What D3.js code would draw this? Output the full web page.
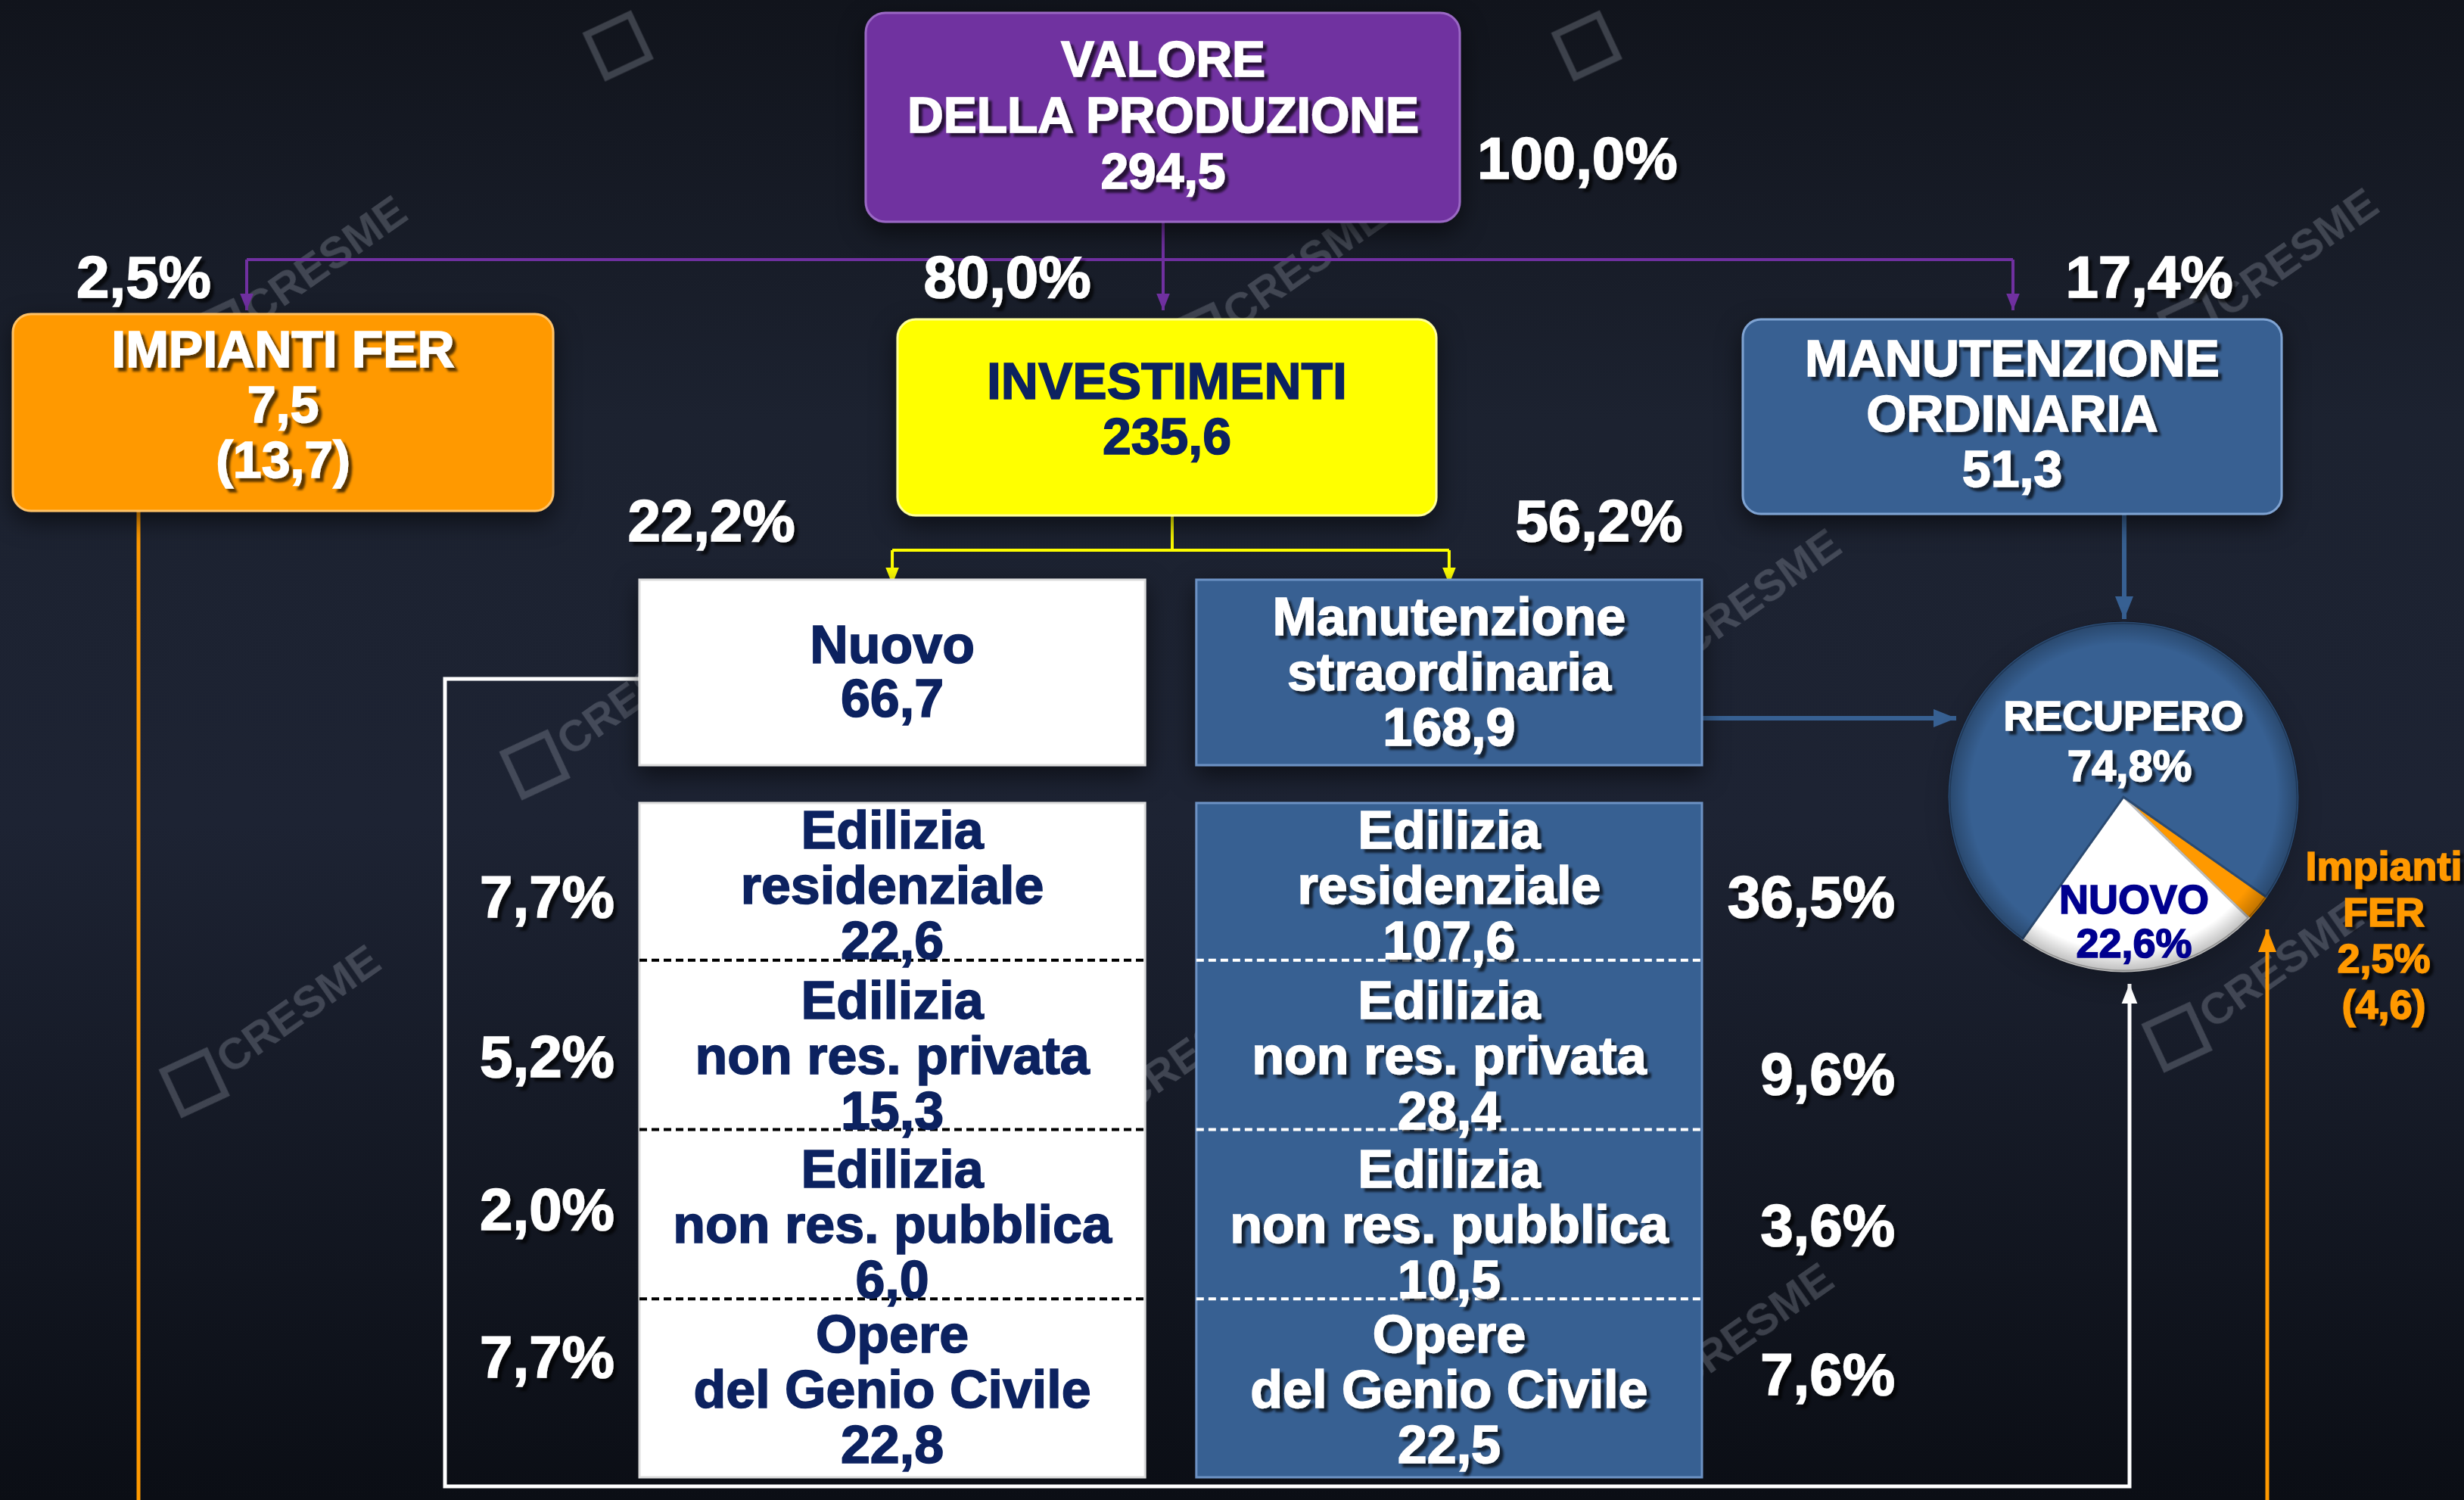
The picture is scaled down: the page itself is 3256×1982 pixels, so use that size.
<!DOCTYPE html>
<html>
<head>
<meta charset="utf-8">
<script src="https://cdn.jsdelivr.net/npm/d3@7"></script>
<style>
html, body { margin: 0; padding: 0; background: #151a25; }
svg { display: block; }
</style>
</head>
<body>
<div id="chart"></div>
<script>
// valori in miliardi di euro
const topLabel = ["VALORE", "DELLA PRODUZIONE"];
const topValue = 294.5;
const topShare = 100.0;

const branchNames = [["IMPIANTI FER"], ["INVESTIMENTI"], ["MANUTENZIONE", "ORDINARIA"]];
const branchValues = [7.5, 235.6, 51.3];
const branchShares = [2.5, 80.0, 17.4];
const ferTotal = 13.7;

const investNames = [["Nuovo"], ["Manutenzione", "straordinaria"]];
const investValues = [66.7, 168.9];
const investShares = [22.2, 56.2];

const categories = [["Edilizia", "residenziale"], ["Edilizia", "non res. privata"], ["Edilizia", "non res. pubblica"], ["Opere", "del Genio Civile"]];
const nuovoValues = [22.6, 15.3, 6.0, 22.8];
const nuovoShares = [7.7, 5.2, 2.0, 7.7];
const straordValues = [107.6, 28.4, 10.5, 22.5];
const straordShares = [36.5, 9.6, 3.6, 7.6];

const pieNames = ["RECUPERO", "NUOVO", "Impianti FER"];
const pieShares = [74.8, 22.6, 2.5];
const pieFerValue = 4.6;

const W = 3256, H = 1982;
const FONT = "'Liberation Sans', Arial, sans-serif";
const NAVY = "#0c2260", BLUE = "#376092", ORANGE = "#ff9900", PURPLE = "#7030a0", YELLOW = "#ffff00";

const it = d3.formatLocale({decimal: ",", thousands: ".", grouping: [3], currency: ["", " €"]});
const f1 = it.format(".1f");
const pct = v => f1(v) + "%";

const svg = d3.select("#chart").append("svg").attr("width", W).attr("height", H);
const defs = svg.append("defs");

// sfondo
const bg = defs.append("linearGradient").attr("id", "bg").attr("x1", 0).attr("y1", 0).attr("x2", 0).attr("y2", 1);
bg.append("stop").attr("offset", "0%").attr("stop-color", "#11141c");
bg.append("stop").attr("offset", "28%").attr("stop-color", "#1c2230");
bg.append("stop").attr("offset", "55%").attr("stop-color", "#1d2333");
bg.append("stop").attr("offset", "100%").attr("stop-color", "#0b0e15");
svg.append("rect").attr("width", W).attr("height", H).attr("fill", "url(#bg)");

const ts = defs.append("filter").attr("id", "ts").attr("x", "-10%").attr("y", "-30%").attr("width", "130%").attr("height", "160%");
ts.append("feDropShadow").attr("dx", 5).attr("dy", 5).attr("stdDeviation", 1.5).attr("flood-color", "#000").attr("flood-opacity", 0.65);
const bs = defs.append("filter").attr("id", "bs").attr("x", "-20%").attr("y", "-20%").attr("width", "140%").attr("height", "150%");
bs.append("feDropShadow").attr("dx", 0).attr("dy", 12).attr("stdDeviation", 16).attr("flood-color", "#000").attr("flood-opacity", 0.55);

function marker(id, color, size) {
  defs.append("marker").attr("id", id).attr("viewBox", "0 0 10 10")
    .attr("refX", 10).attr("refY", 5).attr("markerUnits", "userSpaceOnUse")
    .attr("markerWidth", size).attr("markerHeight", size).attr("orient", "auto")
    .append("path").attr("d", "M0,1 L10,5 L0,9 Z").attr("fill", color);
}
marker("aPurple", PURPLE, 22);
marker("aYellow", YELLOW, 22);
marker("aBlue", BLUE, 30);
marker("aWhite", "#ffffff", 26);
marker("aOrange", ORANGE, 30);

// filigrana CRESME
const wm = svg.append("g").attr("opacity", 0.32);
function logo(x, y, withText) {
  const g = wm.append("g").attr("transform", `translate(${x},${y}) rotate(-35)`);
  g.append("rect").attr("x", -170).attr("y", -30).attr("width", 62).attr("height", 62)
    .attr("fill", "none").attr("stroke", "#9aa0ac").attr("stroke-width", 9).attr("transform", "rotate(10,-139,1)");
  if (withText) g.append("text").attr("x", -95).attr("y", 0).attr("dy", "0.35em").attr("font-family", FONT)
    .attr("font-weight", "bold").attr("font-size", 58).attr("fill", "#9aa0ac").text("CRESME");
}
[[405, 360], [370, 1350], [1700, 365], [3010, 350], [2300, 800], [2990, 1290], [2290, 1770], [1560, 1400], [820, 930]]
  .forEach(p => logo(p[0], p[1], true));
logo(930, -20, false);
logo(2210, -20, false);

function lines(g, arr, x, y0, lh, size, fill, shadow, anchor) {
  arr.forEach((t, i) => {
    const el = g.append("text").attr("x", x).attr("y", y0 + i * lh).attr("dy", "0.36em")
      .attr("text-anchor", anchor || "middle").attr("font-family", FONT).attr("font-weight", "bold")
      .attr("font-size", size).attr("fill", fill).attr("stroke", fill).attr("stroke-width", 1.6).text(t);
    if (shadow) el.attr("filter", "url(#ts)");
  });
}

const conn = svg.append("g").attr("fill", "none");
// connettori dal valore della produzione
const branchX = [326, 1537, 2660];
conn.append("path").attr("d", `M1537,293 V343`).attr("stroke", PURPLE).attr("stroke-width", 4);
conn.append("path").attr("d", `M${branchX[0]},343 H${branchX[2]}`).attr("stroke", PURPLE).attr("stroke-width", 4);
branchX.forEach(x => conn.append("path").attr("d", `M${x},343 V410`).attr("stroke", PURPLE)
  .attr("stroke-width", 4).attr("marker-end", "url(#aPurple)"));

// colonne (nuovo / manutenzione straordinaria)
const cols = ["nuovo", "straord"];
const colX = d3.scaleBand().domain(cols).range([845, 2249]).paddingInner(0.092);
const rowY = d3.scaleBand().domain(d3.range(categories.length)).range([1045, 1940]);
const colTop = 1061, colBottom = 1952;

// connettori dagli investimenti
const invX = cols.map(c => colX(c) + colX.bandwidth() / 2);
conn.append("path").attr("d", `M1549,681 V727`).attr("stroke", YELLOW).attr("stroke-width", 4);
conn.append("path").attr("d", `M${invX[0]},727 H${invX[1]}`).attr("stroke", YELLOW).attr("stroke-width", 4);
invX.forEach(x => conn.append("path").attr("d", `M${x},727 V772`).attr("stroke", YELLOW)
  .attr("stroke-width", 4).attr("marker-end", "url(#aYellow)"));

// flussi verso la torta
conn.append("path").attr("d", "M907,897 H588 V1964 H2814 V1300").attr("stroke", "#ffffff")
  .attr("stroke-width", 5).attr("marker-end", "url(#aWhite)");
conn.append("path").attr("d", "M183,675 V1990").attr("stroke", ORANGE).attr("stroke-width", 5);
conn.append("path").attr("d", "M2996,1990 V1228").attr("stroke", ORANGE).attr("stroke-width", 5).attr("marker-end", "url(#aOrange)");
conn.append("path").attr("d", "M2249,949 H2585").attr("stroke", BLUE).attr("stroke-width", 6).attr("marker-end", "url(#aBlue)");
conn.append("path").attr("d", "M2807,679 V818").attr("stroke", BLUE).attr("stroke-width", 6).attr("marker-end", "url(#aBlue)");

// box principale
const main = svg.append("g");
main.append("rect").attr("x", 1144).attr("y", 17).attr("width", 785).attr("height", 276).attr("rx", 26)
  .attr("fill", PURPLE).attr("stroke", "#9a68c4").attr("stroke-width", 3).attr("filter", "url(#bs)");
lines(main, topLabel.concat([f1(topValue)]), 1537, 77, 74, 66, "#ffffff", true);
lines(main, [pct(topShare)], 1952, 208, 0, 78, "#ffffff", true, "start");

// box di primo livello
const branchBoxes = [
  {x: 17, y: 415, w: 714, h: 260, fill: ORANGE, stroke: "#ffc266", text: "#ffffff", y0: 461, sub: ["(" + f1(ferTotal) + ")"]},
  {x: 1186, y: 422, w: 712, h: 259, fill: YELLOW, stroke: "#ffff99", text: NAVY, y0: 503, sub: []},
  {x: 2303, y: 422, w: 712, h: 257, fill: BLUE, stroke: "#7fa3d2", text: "#ffffff", y0: 473, sub: []}
];
branchBoxes.forEach((b, i) => {
  main.append("rect").attr("x", b.x).attr("y", b.y).attr("width", b.w).attr("height", b.h).attr("rx", 24)
    .attr("fill", b.fill).attr("stroke", b.stroke).attr("stroke-width", 3).attr("filter", "url(#bs)");
  lines(main, branchNames[i].concat([f1(branchValues[i])], b.sub), b.x + b.w / 2, b.y0, 73, 68, b.text, b.text === "#ffffff");
});
const shareLabelPos = [[190, 365], [1331, 365], [2840, 365]];
branchShares.forEach((v, i) => lines(main, [pct(v)], shareLabelPos[i][0], shareLabelPos[i][1], 0, 78, "#ffffff", true));
investShares.forEach((v, i) => lines(main, [pct(v)], [940, 2113][i], 687, 0, 78, "#ffffff", true));

// box investimenti e colonne di dettaglio
const colFill = {nuovo: "#ffffff", straord: BLUE};
const colText = {nuovo: NAVY, straord: "#ffffff"};
const colDash = {nuovo: "#000000", straord: "#ffffff"};
const colValues = {nuovo: nuovoValues, straord: straordValues};
cols.forEach((c, i) => {
  const x = colX(c), w = colX.bandwidth(), cx = x + w / 2;
  main.append("rect").attr("x", x).attr("y", 766).attr("width", w).attr("height", 245)
    .attr("fill", colFill[c]).attr("stroke", c === "straord" ? "#6d92c4" : "#dddddd").attr("stroke-width", 3)
    .attr("filter", "url(#bs)");
  const inv = investNames[i].concat([f1(investValues[i])]);
  lines(main, inv, cx, inv.length === 2 ? 851 : 814, inv.length === 2 ? 71 : 73, 70, colText[c], c === "straord");

  main.append("rect").attr("x", x).attr("y", colTop).attr("width", w).attr("height", colBottom - colTop)
    .attr("fill", colFill[c]).attr("stroke", c === "straord" ? "#6d92c4" : "#dddddd").attr("stroke-width", 3);
  d3.range(1, categories.length).forEach(r => {
    main.append("line").attr("x1", x).attr("x2", x + w).attr("y1", rowY(r)).attr("y2", rowY(r))
      .attr("stroke", colDash[c]).attr("stroke-width", 4).attr("stroke-dasharray", "10,6");
  });
  categories.forEach((cat, r) => {
    lines(main, cat.concat([f1(colValues[c][r])]), cx, rowY(r) + [51, 52, 51, 46][r], 73, 70, colText[c], c === "straord");
  });
});
nuovoShares.forEach((v, r) => lines(main, [pct(v)], 723, rowY(r) + [139, 126, 104, 76][r], 0, 78, "#ffffff", true));
straordShares.forEach((v, r) => lines(main, [pct(v)], 2504, rowY(r) + [139, 149, 125, 99][r], 0, 78, "#ffffff", true, "end"));

// torta recupero / nuovo / impianti FER
const pc = [2806, 1053], R = 230;
const pieG = svg.append("g").attr("transform", `translate(${pc[0]},${pc[1]})`);
const a0 = 125 * Math.PI / 180;
const pie = d3.pie().sort(null).value(i => pieShares[i]).startAngle(a0).endAngle(a0 + 2 * Math.PI);
const arc = d3.arc().innerRadius(0).outerRadius(R);
const sliceFill = [BLUE, "#ffffff", ORANGE];
const sliceStroke = ["#2a4a72", "#bbbbbb", "#b36b00"];
pieG.append("circle").attr("r", R + 2).attr("fill", "#000").attr("opacity", 0.35).attr("filter", "url(#bs)");
pieG.selectAll("path.slice").data(pie([2, 1, 0])).join("path").attr("class", "slice")
  .attr("d", arc).attr("fill", d => sliceFill[d.data]).attr("stroke", d => sliceStroke[d.data]).attr("stroke-width", 3);
const rg = defs.append("radialGradient").attr("id", "pieShade");
rg.append("stop").attr("offset", "88%").attr("stop-color", "#000").attr("stop-opacity", 0);
rg.append("stop").attr("offset", "100%").attr("stop-color", "#000").attr("stop-opacity", 0.25);
pieG.append("circle").attr("r", R).attr("fill", "url(#pieShade)");

lines(pieG, [pieNames[0]], 0, -108, 0, 56, "#ffffff", true);
lines(pieG, [pct(pieShares[0])], 8, -42, 0, 58, "#ffffff", true);
lines(pieG, [pieNames[1], pct(pieShares[1])], 14, 135, 58, 54, "#00008f", false);
lines(svg.append("g"), pieNames[2].split(" ").concat([pct(pieShares[2]), "(" + f1(pieFerValue) + ")"]),
  3150, 1144, 61, 54, ORANGE, true);
</script>
</body>
</html>
